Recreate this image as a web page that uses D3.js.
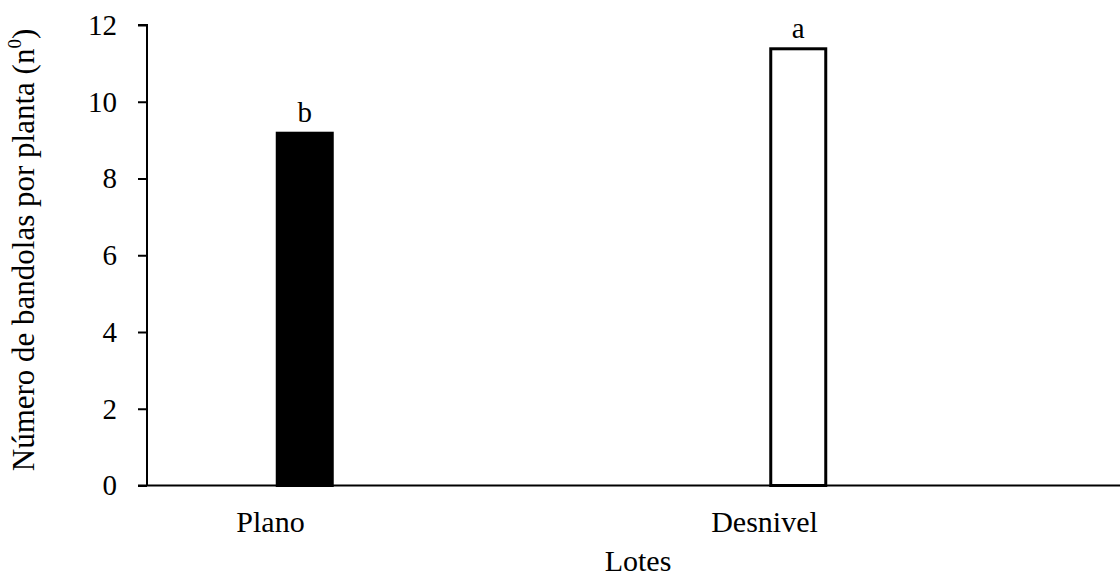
<!DOCTYPE html>
<html><head><meta charset="utf-8">
<script src="https://cdn.jsdelivr.net/npm/d3@7"></script>
<style>body{margin:0;background:#fff}svg{display:block}svg text{font-family:'Liberation Serif','Times New Roman',Times,serif !important;fill:#000}</style>
</head><body><svg id="c" width="1120" height="579"></svg>
<script>
const categories = ["Plano", "Desnivel"];
const values = [9.18, 11.38];
const letters = ["b", "a"];
const fills = ["#000", "#fff"];
const yTicks = [0, 2, 4, 6, 8, 10, 12];

const svg = d3.select("#c");
const mLeft = 147, mRight = 1120, mTop = 25, mBottom = 485.5;
const fs = 29;
const y = d3.scaleLinear().domain([0, 12]).range([mBottom, mTop]);
const x = d3.scaleBand().domain(categories).range([58, 1045]).paddingInner(0).paddingOuter(0);
const barW = 55;
const xl = d3.scalePoint().domain(categories).range([270, 764]);

// y axis
const ya = svg.append("g").attr("transform", `translate(${mLeft},0)`)
  .call(d3.axisLeft(y).tickValues(yTicks).tickSize(9).tickPadding(21).tickFormat(d3.format("d")));
ya.attr("font-family", null).attr("font-size", null);
ya.select(".domain").attr("stroke-width", 2).attr("d", `M-9,${mTop}H0V${mBottom}`);
ya.selectAll(".tick line").attr("stroke-width", 2);
ya.selectAll(".tick text").attr("font-size", fs);

// bars
svg.selectAll("rect.bar").data(categories).enter().append("rect")
  .attr("class", "bar")
  .attr("x", (d) => x(d) + x.bandwidth() / 2 - barW / 2)
  .attr("width", barW)
  .attr("y", (d, i) => y(values[i]))
  .attr("height", (d, i) => y(0) - y(values[i]))
  .attr("fill", (d, i) => fills[i])
  .attr("stroke", "#000").attr("stroke-width", 3);

// x axis line
svg.append("line").attr("x1", mLeft - 9).attr("x2", mRight).attr("y1", y(0)).attr("y2", y(0))
  .attr("stroke", "#000").attr("stroke-width", 2);

// letters
svg.selectAll("text.let").data(categories).enter().append("text")
  .attr("class", "let")
  .attr("x", (d) => x(d) + x.bandwidth() / 2)
  .attr("y", (d, i) => y(values[i]) - 11)
  .attr("text-anchor", "middle").attr("font-size", fs)
  .text((d, i) => letters[i]);

// category labels
const xa = svg.append("g").attr("transform", `translate(0,${mBottom})`)
  .call(d3.axisBottom(xl).tickSize(0).tickPadding(25));
xa.attr("font-family", null).attr("font-size", null);
xa.select(".domain").remove();
xa.selectAll(".tick text").attr("font-size", fs + 1);

svg.append("text").attr("x", 638).attr("y", 571).attr("text-anchor", "middle").attr("font-size", fs + 1).text("Lotes");

const yt = svg.append("text").attr("transform", `translate(34,250) rotate(-90)`)
  .attr("text-anchor", "middle").attr("font-size", 31);
yt.append("tspan").text("Número de bandolas por planta (n");
yt.append("tspan").attr("font-size", 19).attr("dy", -13).text("0");
yt.append("tspan").attr("dy", 13).text(")");
</script></body></html>
